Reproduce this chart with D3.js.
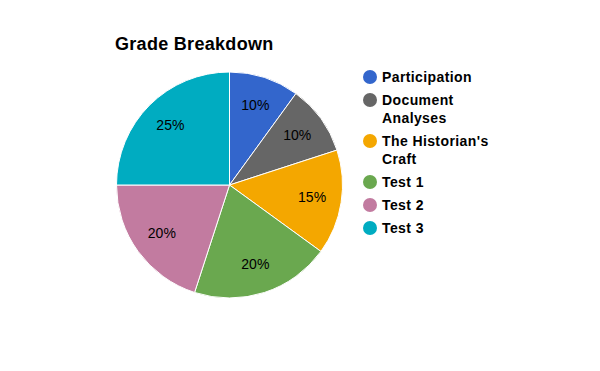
<!DOCTYPE html>
<html>
<head>
<meta charset="utf-8">
<script src="https://cdn.jsdelivr.net/npm/d3@7"></script>
<style>
  body { margin: 0; background: #fff; }
  svg { font-family: Arial, "Liberation Sans", sans-serif; }
</style>
</head>
<body>
<div id="chart"></div>
<script>
const categories = ['Participation', 'Document Analyses', "The Historian's Craft", 'Test 1', 'Test 2', 'Test 3'];
const legendLines = [['Participation'], ['Document', 'Analyses'], ["The Historian's", 'Craft'], ['Test 1'], ['Test 2'], ['Test 3']];
const values = [10, 10, 15, 20, 20, 25];
const colors = ['#3366cc', '#666666', '#f4a700', '#6aa84f', '#c27ba0', '#00acc1'];

const width = 600, height = 371;
const cx = 229.5, cy = 185, radius = 113;

const svg = d3.select('#chart').append('svg')
    .attr('width', width)
    .attr('height', height);

// Title
svg.append('text')
    .attr('x', 115)
    .attr('y', 50)
    .style('font-size', '18px')
    .style('font-weight', 'bold')
    .style('letter-spacing', '0.3px')
    .text('Grade Breakdown');

const pie = d3.pie().sort(null).value(d => d);
const arc = d3.arc().innerRadius(0).outerRadius(radius);
const labelArc = d3.arc().innerRadius(radius * 0.74).outerRadius(radius * 0.74);
const total = d3.sum(values);

const g = svg.append('g').attr('transform', `translate(${cx},${cy})`);
const slices = pie(values);

g.selectAll('path')
    .data(slices)
    .join('path')
    .attr('d', arc)
    .attr('fill', (d, i) => colors[i])
    .attr('stroke', '#fff')
    .attr('stroke-width', 1);

g.selectAll('text.pct')
    .data(slices)
    .join('text')
    .attr('class', 'pct')
    .attr('transform', d => `translate(${labelArc.centroid(d)})`)
    .attr('text-anchor', 'middle')
    .attr('dy', '0.3em')
    .style('font-size', '14px')
    .text(d => Math.round(d.value / total * 100) + '%');

// Legend
const legendX = 370;
let rowY = 77;
legendLines.forEach((lines, i) => {
    const item = svg.append('g');
    item.append('circle')
        .attr('cx', legendX)
        .attr('cy', rowY)
        .attr('r', 7)
        .attr('fill', colors[i]);
    lines.forEach((line, j) => {
        item.append('text')
            .attr('x', legendX + 12)
            .attr('y', rowY + j * 18)
            .attr('dy', '0.36em')
            .style('font-size', '14px')
            .style('font-weight', 'bold')
            .style('letter-spacing', '0.4px')
            .text(line);
    });
    rowY += lines.length * 18 + 5;
});
</script>
</body>
</html>
